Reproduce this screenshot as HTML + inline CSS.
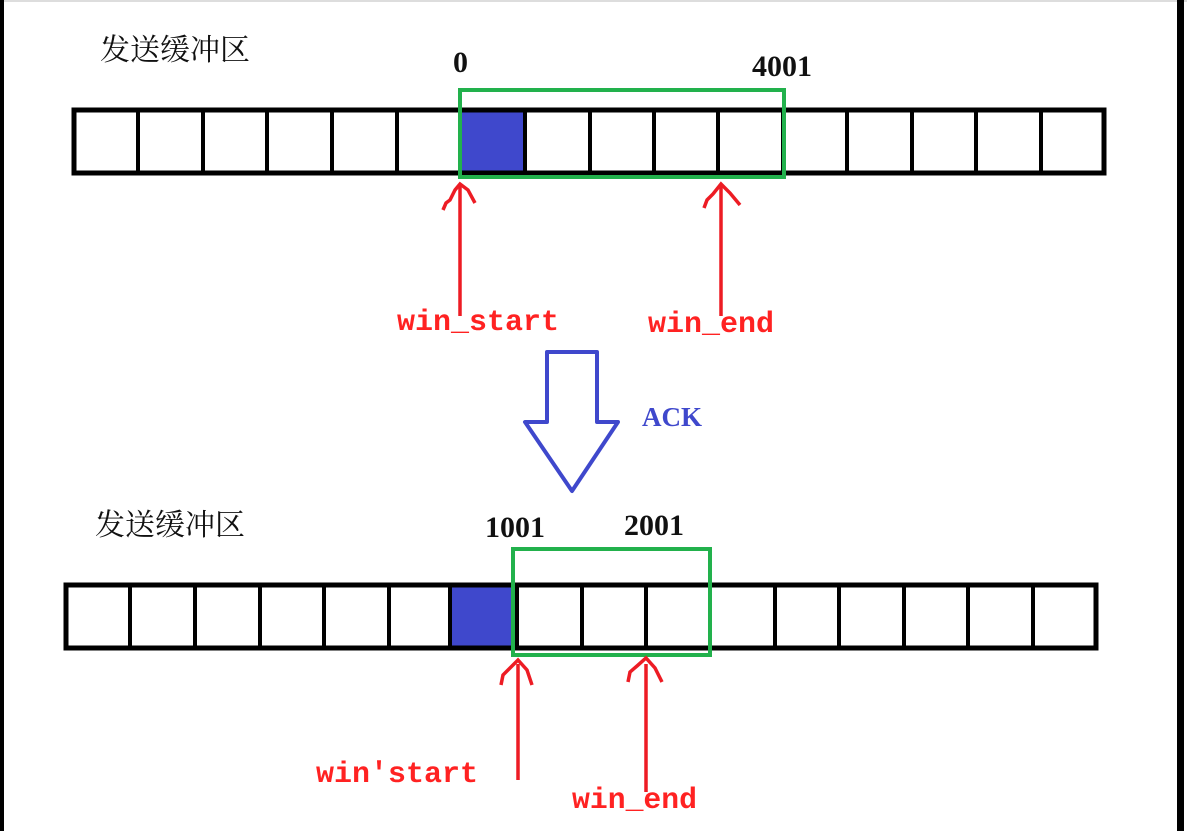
<!DOCTYPE html>
<html><head><meta charset="utf-8"><style>
html,body{margin:0;padding:0;background:#fff;}
svg{display:block;}
.cn{font-family:"Liberation Serif","Noto Serif CJK SC",serif;font-size:30px;fill:#111;}
.num{font-family:"Liberation Serif",serif;font-size:30px;font-weight:bold;fill:#111;}
.lbl{font-family:"Liberation Mono",monospace;font-size:30px;font-weight:bold;fill:#f22;}
</style></head><body>
<svg width="1187" height="831" viewBox="0 0 1187 831" xmlns="http://www.w3.org/2000/svg">
<rect x="0" y="0" width="1187" height="831" fill="#fff"/>
<line x1="0" y1="1" x2="1187" y2="1" stroke="#ddd" stroke-width="2"/>
<rect x="0" y="0" width="4" height="831" fill="#000"/>
<rect x="1177" y="0" width="7" height="831" fill="#000"/>

<!-- top buffer -->
<text class="cn" x="100" y="60">发送缓冲区</text>
<text class="num" x="453" y="72">0</text>
<text class="num" x="752" y="76">4001</text>
<rect x="461" y="112" width="64" height="60" fill="#3f48cc"/>
<rect x="74" y="110" width="1030" height="63" fill="none" stroke="#000" stroke-width="5"/>
<g stroke="#000" stroke-width="4">
<line x1="138" y1="110" x2="138" y2="173"/><line x1="203" y1="110" x2="203" y2="173"/>
<line x1="267" y1="110" x2="267" y2="173"/><line x1="332" y1="110" x2="332" y2="173"/>
<line x1="397" y1="110" x2="397" y2="173"/><line x1="525" y1="110" x2="525" y2="173"/>
<line x1="590" y1="110" x2="590" y2="173"/><line x1="654" y1="110" x2="654" y2="173"/>
<line x1="718" y1="110" x2="718" y2="173"/><line x1="783" y1="110" x2="783" y2="173"/>
<line x1="847" y1="110" x2="847" y2="173"/><line x1="912" y1="110" x2="912" y2="173"/>
<line x1="976" y1="110" x2="976" y2="173"/><line x1="1041" y1="110" x2="1041" y2="173"/>
</g>
<rect x="460" y="90" width="324" height="87" fill="none" stroke="#22b14c" stroke-width="4"/>
<g stroke="#ed1c24" stroke-width="3.5" fill="none">
<line x1="460" y1="186" x2="460" y2="316"/>
<path d="M443 210 L446 203 L450 200 L455 190 L460 184 L468 190 L475 203"/>
<line x1="721" y1="186" x2="721" y2="316"/>
<path d="M704 208 L707 200 L713 194 L721 184 L730 193 L740 205"/>
</g>
<text class="lbl" x="397" y="330">win_start</text>
<text class="lbl" x="648" y="332">win_end</text>

<!-- big arrow -->
<path d="M547 352 L597 352 L597 422 L618 422 L572 491 L525 422 L547 422 Z" fill="none" stroke="#3f48cc" stroke-width="4" stroke-linejoin="round"/>
<text x="642" y="426" font-family="Liberation Serif,serif" font-size="27" font-weight="bold" fill="#3f48cc">ACK</text>

<!-- bottom buffer -->
<text class="cn" x="95" y="535">发送缓冲区</text>
<text class="num" x="485" y="537">1001</text>
<text class="num" x="624" y="535">2001</text>
<rect x="450" y="587" width="64" height="60" fill="#3f48cc"/>
<rect x="66" y="585" width="1030" height="63" fill="none" stroke="#000" stroke-width="5"/>
<g stroke="#000" stroke-width="4">
<line x1="130" y1="585" x2="130" y2="648"/><line x1="195" y1="585" x2="195" y2="648"/>
<line x1="260" y1="585" x2="260" y2="648"/><line x1="324" y1="585" x2="324" y2="648"/>
<line x1="389" y1="585" x2="389" y2="648"/><line x1="450" y1="585" x2="450" y2="648"/>
<line x1="517" y1="585" x2="517" y2="648"/><line x1="582" y1="585" x2="582" y2="648"/>
<line x1="646" y1="585" x2="646" y2="648"/><line x1="710" y1="585" x2="710" y2="648"/>
<line x1="775" y1="585" x2="775" y2="648"/><line x1="839" y1="585" x2="839" y2="648"/>
<line x1="904" y1="585" x2="904" y2="648"/><line x1="968" y1="585" x2="968" y2="648"/>
<line x1="1033" y1="585" x2="1033" y2="648"/>
</g>
<rect x="513" y="549" width="197" height="106" fill="none" stroke="#22b14c" stroke-width="4"/>
<g stroke="#ed1c24" stroke-width="3.5" fill="none">
<line x1="518" y1="664" x2="518" y2="780"/>
<path d="M501 685 L503 675 L510 668 L518 660 L527 670 L532 685"/>
<line x1="646" y1="664" x2="646" y2="792"/>
<path d="M628 682 L630 672 L637 666 L646 658 L655 668 L662 682"/>
</g>
<text class="lbl" x="316" y="782" textLength="162" lengthAdjust="spacingAndGlyphs">win'start</text>
<text class="lbl" x="572" y="808" textLength="125" lengthAdjust="spacingAndGlyphs">win_end</text>
</svg>
</body></html>
